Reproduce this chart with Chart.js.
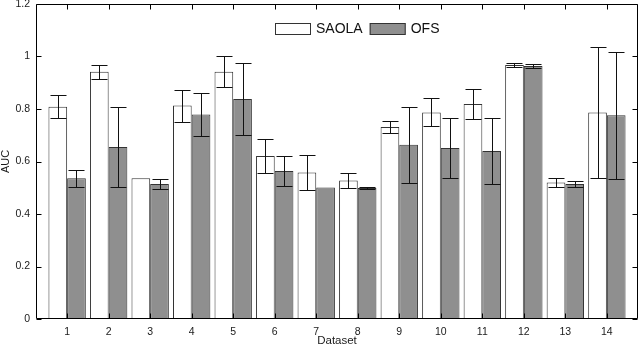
<!DOCTYPE html>
<html>
<head>
<meta charset="utf-8">
<script src="https://cdn.jsdelivr.net/npm/chart.js@4.4.0/dist/chart.umd.min.js"></script>
<style>
  html, body { margin: 0; padding: 0; background: #fff; }
  #wrap { width: 640px; height: 349px; }
</style>
</head>
<body>
<div id="wrap"><canvas id="chart" width="640" height="349"></canvas></div>
<script>
// data
const datasetIds = [1, 2, 3, 4, 5, 6, 7, 8, 9, 10, 11, 12, 13, 14];
const seriesNames = ['SAOLA', 'OFS'];
const saolaMean = [0.809, 0.942, 0.536, 0.813, 0.942, 0.621, 0.558, 0.528, 0.731, 0.787, 0.819, 0.968, 0.520, 0.787];
const saolaStd  = [0.043, 0.026, 0,     0.061, 0.058, 0.066, 0.065, 0.028, 0.024, 0.053, 0.057, 0.007, 0.016, 0.250];
const ofsMean   = [0.536, 0.655, 0.514, 0.779, 0.838, 0.564, 0.501, 0.499, 0.664, 0.651, 0.640, 0.964, 0.514, 0.776];
const ofsStd    = [0.033, 0.151, 0.020, 0.081, 0.137, 0.057, 0,     0.002, 0.144, 0.115, 0.126, 0.008, 0.013, 0.242];
const yTickValues = [0, 0.2, 0.4, 0.6, 0.8, 1, 1.2];
const yTickLabels = ['0', '0.2', '0.4', '0.6', '0.8', '1', '1.2'];

const narrow = "'Liberation Sans Narrow', 'Liberation Sans', Arial, sans-serif";

/* error bars */
const errorBars = {
    id: 'errorBars',
    afterDatasetsDraw(chart) {
        const { ctx } = chart;
        const y = chart.scales.y;
        ctx.save();
        ctx.strokeStyle = '#111';
        ctx.lineWidth = 1;
        chart.data.datasets.forEach((ds, di) => {
            const meta = chart.getDatasetMeta(di);
            meta.data.forEach((bar, i) => {
                const sd = ds.err[i];
                if (!sd) return;
                const m = ds.data[i].y;
                const yt = Math.round(y.getPixelForValue(m + sd)) + 0.5;
                const yb = Math.round(y.getPixelForValue(m - sd)) + 0.5;
                const cx = Math.round(bar.x) + 0.5;
                const half = Math.round(bar.width * 0.42);
                ctx.beginPath();
                ctx.moveTo(cx, yt); ctx.lineTo(cx, yb);
                ctx.moveTo(cx - half, yt); ctx.lineTo(cx + half, yt);
                ctx.moveTo(cx - half, yb); ctx.lineTo(cx + half, yb);
                ctx.stroke();
            });
        });
        ctx.restore();
    }
};

/* axes box with inward ticks */
const axesBox = {
    id: 'axesBox',
    afterDraw(chart) {
        const { ctx, chartArea: a } = chart;
        const { x, y } = chart.scales;
        const L = Math.round(a.left) + 0.5, R = Math.round(a.right) - 0.5;
        const T = Math.round(a.top) + 0.5, B = Math.round(a.bottom) - 0.5;
        ctx.save();
        ctx.strokeStyle = '#000';
        ctx.lineWidth = 1;
        ctx.beginPath();
        ctx.rect(L, T, R - L, B - T);
        y.ticks.forEach(t => {
            const py = Math.round(y.getPixelForValue(t.value)) + 0.5;
            ctx.moveTo(L, py); ctx.lineTo(L + 5, py);
            ctx.moveTo(R, py); ctx.lineTo(R - 5, py);
        });
        x.ticks.forEach(t => {
            const px = Math.round(x.getPixelForValue(t.value)) + 0.5;
            ctx.moveTo(px, T); ctx.lineTo(px, T + 5);
            ctx.moveTo(px, B); ctx.lineTo(px, B - 5);
        });
        ctx.stroke();
        ctx.restore();
    }
};

/* legend inside the axes, top */
const boxLegend = {
    id: 'boxLegend',
    afterDraw(chart) {
        const { ctx, chartArea: a } = chart;
        let lx = a.left + 239;
        const ly = a.top + 19;
        ctx.save();
        ctx.font = '14px ' + narrow;
        ctx.textBaseline = 'middle';
        chart.data.datasets.forEach(ds => {
            ctx.fillStyle = ds.backgroundColor;
            ctx.fillRect(lx, ly, 36, 12);
            ctx.strokeStyle = '#333';
            ctx.strokeRect(lx + 0.5, ly + 0.5, 35, 11);
            ctx.fillStyle = '#111';
            ctx.fillText(ds.label, lx + 41, ly + 6.5);
            lx += 41 + ctx.measureText(ds.label).width + 7;
        });
        ctx.restore();
    }
};

new Chart(document.getElementById('chart'), {
    type: 'bar',
    data: {
        datasets: [
            {
                label: seriesNames[0],
                data: datasetIds.map((id, i) => ({ x: id, y: saolaMean[i] })),
                err: saolaStd,
                backgroundColor: '#ffffff',
                borderColor: '#333333',
                borderWidth: 1,
                categoryPercentage: 0.9,
                barPercentage: 1
            },
            {
                label: seriesNames[1],
                data: datasetIds.map((id, i) => ({ x: id, y: ofsMean[i] })),
                err: ofsStd,
                backgroundColor: '#8f8f8f',
                borderColor: '#333333',
                borderWidth: 1,
                categoryPercentage: 0.9,
                barPercentage: 1
            }
        ]
    },
    options: {
        responsive: false,
        animation: false,
        layout: { padding: { top: 4, right: 2, left: 0, bottom: 0 } },
        plugins: {
            legend: { display: false },
            tooltip: { enabled: false }
        },
        scales: {
            x: {
                type: 'linear',
                offset: false,
                min: 0.25,
                max: 14.75,
                grid: { display: false, drawTicks: false, offset: false },
                border: { display: false },
                afterBuildTicks: (s) => { s.ticks = datasetIds.map(v => ({ value: v })); },
                afterFit: (s) => { s.height = 30; s.paddingLeft = 0; s.paddingRight = 0; },
                ticks: {
                    autoSkip: false,
                    maxRotation: 0,
                    padding: 7,
                    color: '#1a1a1a',
                    font: { family: narrow, size: 10.5 },
                    callback: (v) => String(v)
                },
                title: {
                    display: true,
                    text: 'Dataset',
                    color: '#1a1a1a',
                    font: { family: narrow, size: 11.5 },
                    padding: { top: 0, bottom: 1 }
                }
            },
            y: {
                min: 0,
                max: 1.2,
                grid: { display: false, drawTicks: false },
                border: { display: false },
                afterBuildTicks: (s) => { s.ticks = yTickValues.map(v => ({ value: v })); },
                afterFit: (s) => { s.width = 36; s.paddingTop = 0; s.paddingBottom = 0; },
                ticks: {
                    padding: 6,
                    color: '#1a1a1a',
                    font: { family: narrow, size: 10.5 },
                    callback: (v) => yTickLabels[yTickValues.indexOf(v)]
                },
                title: {
                    display: true,
                    text: 'AUC',
                    color: '#1a1a1a',
                    font: { family: narrow, size: 11, lineHeight: 1 },
                    padding: { top: 0, bottom: 0 }
                }
            }
        }
    },
    plugins: [errorBars, axesBox, boxLegend]
});
</script>
</body>
</html>
